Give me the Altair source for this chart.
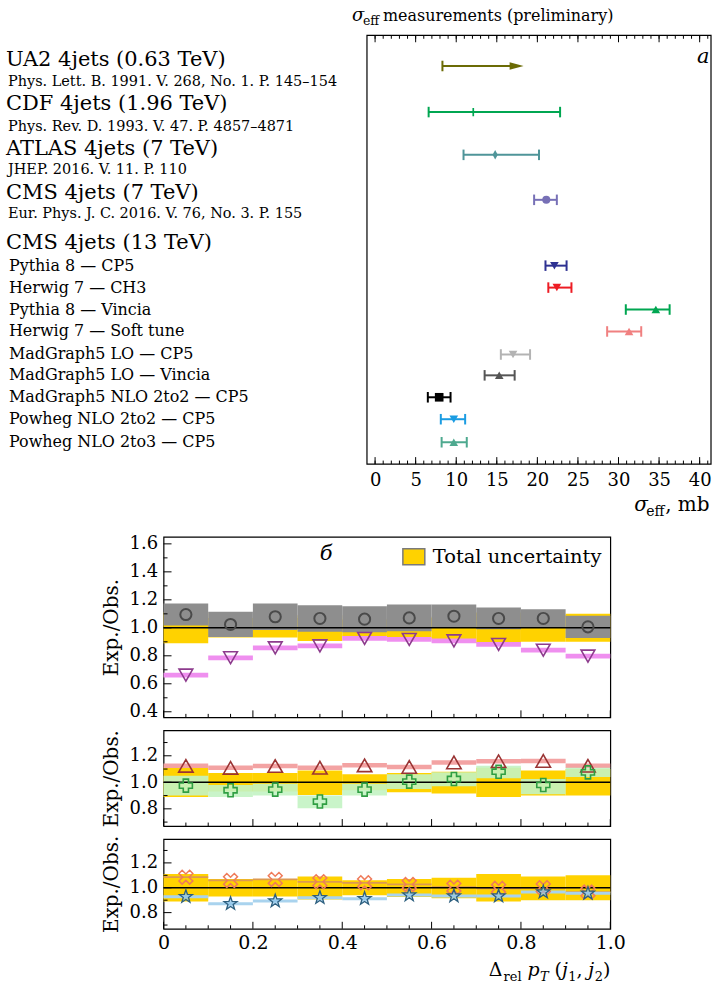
import altair as alt
import pandas as pd

FONT = "DejaVu Serif"

# ================= panel a : sigma_eff measurements =================
exp_names = ["UA2 4jets (0.63 TeV)", "CDF 4jets (1.96 TeV)",
             "ATLAS 4jets (7 TeV)", "CMS 4jets (7 TeV)"]
exp_refs = ["Phys. Lett. B. 1991. V. 268, No. 1. P. 145–154",
            "Phys. Rev. D. 1993. V. 47. P. 4857–4871",
            "JHEP. 2016. V. 11. P. 110",
            "Eur. Phys. J. C. 2016. V. 76, No. 3. P. 155"]
ua2_limit = 8.3          # lower limit
ua2_arrow_to = 18.3
meas_val = [12.1, 14.8, 21.1]     # CDF, ATLAS, CMS 7 TeV
meas_lo = [6.6, 10.9, 19.6]
meas_hi = [22.8, 20.2, 22.4]
cms13_title = "CMS 4jets (13 TeV)"
model_names = ["Pythia 8 — CP5", "Herwig 7 — CH3", "Pythia 8 — Vincia",
               "Herwig 7 — Soft tune", "MadGraph5 LO — CP5", "MadGraph5 LO — Vincia",
               "MadGraph5 NLO 2to2 — CP5", "Powheg NLO 2to2 — CP5", "Powheg NLO 2to3 — CP5"]
model_val = [22.1, 22.4, 34.6, 31.3, 17.0, 15.3, 7.9, 9.7, 9.7]
model_lo = [21.0, 21.35, 30.9, 28.6, 15.5, 13.5, 6.5, 8.1, 8.2]
model_hi = [23.6, 24.2, 36.3, 32.8, 19.1, 17.2, 9.3, 11.1, 11.3]
sigma_major = [0, 5, 10, 15, 20, 25, 30, 35, 40]
sigma_minor = [0, 1, 2, 3, 4, 5, 6, 7, 8, 9, 10, 11, 12, 13, 14, 15, 16, 17, 18, 19, 20,
               21, 22, 23, 24, 25, 26, 27, 28, 29, 30, 31, 32, 33, 34, 35, 36, 37, 38, 39, 40, 41]

# row layout (row units, top = 0)
exp_label_row = [1.15, 3.15, 5.2, 7.2]
exp_ref_row = [2.15, 4.2, 6.15, 8.15]
ua2_row = 1.4
meas_row = [3.5, 5.45, 7.5]
cms13_row = 9.45
model_row = [10.5, 11.5, 12.5, 13.5, 14.55, 15.5, 16.5, 17.5, 18.55]

# styles
PLUS = "M-0.2,-1H0.2V-0.2H1V0.2H0.2V1H-0.2V0.2H-1V-0.2H-0.2Z"
DIAM = "M0,-1L0.55,0L0,1L-0.55,0Z"
HEAD = "M-2,-0.55L0,0L-2,0.55Z"
STAR = ("M0,-1L0.235,-0.324L0.951,-0.309L0.380,0.124L0.588,0.809L0,0.4"
        "L-0.588,0.809L-0.380,0.124L-0.951,-0.309L-0.235,-0.324Z")
XMK = ("M0.495,-0.919L0.919,-0.495L0.424,0L0.919,0.495L0.495,0.919L0,0.424"
       "L-0.495,0.919L-0.919,0.495L-0.424,0L-0.919,-0.495L-0.495,-0.919L0,-0.424Z")
ua2_color = "#6b6b05"
meas_colors = ["#00a651", "#4f9599", "#7770b6"]
meas_shapes = [PLUS, DIAM, "circle"]
meas_sizes = [70, 90, 65]
model_colors = ["#2e3192", "#ed1c24", "#00a651", "#f08080", "#b3b3b3",
                "#555555", "#000000", "#1b9ce2", "#4ea98f"]
model_shapes = ["triangle-down", "triangle-down", "triangle-up", "triangle-up",
                "triangle-down", "triangle-up", "square", "triangle-down", "triangle-up"]
model_size = 75

W_A, H_A = 549, 430
xs_a = alt.Scale(domain=[-1, 41.4], range=[204, 549], nice=False, zero=False)
ys_a = alt.Scale(domain=[0, 19.545], reverse=True, nice=False, zero=False)
ax_a = alt.Axis(values=sigma_major, ticks=False, domain=False, grid=False,
                labelFont=FONT, labelFontSize=18, labelPadding=7, labelFlush=False,
                title=None)


def XA(f):
    return alt.X(f, type="quantitative", scale=xs_a, axis=ax_a)


def YA(f):
    return alt.Y(f, type="quantitative", scale=ys_a, axis=None)


def one():
    return alt.Data(values=[{"k": 0}])


def txt(s, x, y, size, italic=False, align="left", baseline="alphabetic"):
    return alt.Chart(alt.Data(values=[{"t": s}])).mark_text(
        font=FONT, fontSize=size, fontStyle="italic" if italic else "normal",
        align=align, baseline=baseline, color="black"
    ).encode(text="t:N", x=alt.value(x), y=alt.value(y))


pts_df = pd.DataFrame({
    "val": meas_val + model_val,
    "lo": meas_lo + model_lo,
    "hi": meas_hi + model_hi,
    "row": meas_row + model_row,
    "color": meas_colors + model_colors,
    "shape": meas_shapes + model_shapes,
    "size": meas_sizes + [model_size] * len(model_val),
})
exp_df = pd.DataFrame({"name": exp_names, "ref": exp_refs,
                       "lrow": exp_label_row, "rrow": exp_ref_row})
model_df = pd.DataFrame({"name": model_names, "row": model_row})
ua2_df = pd.DataFrame({"lim": [ua2_limit], "to": [ua2_arrow_to], "row": [ua2_row]})
maj_a = pd.DataFrame({"t": sigma_major})
min_a = pd.DataFrame({"t": sigma_minor})

frame_a = alt.Chart(one()).mark_rect(fillOpacity=0, stroke="black", strokeWidth=1.2).encode(
    x=alt.value(204), x2=alt.value(549), y=alt.value(0), y2=alt.value(H_A))
tick_layers_a = [
    alt.Chart(maj_a).mark_rule(color="black", strokeWidth=1).encode(x=XA("t"), y=alt.value(H_A), y2=alt.value(H_A - 7)),
    alt.Chart(min_a).mark_rule(color="black", strokeWidth=1).encode(x=XA("t"), y=alt.value(H_A), y2=alt.value(H_A - 3.5)),
    alt.Chart(maj_a).mark_rule(color="black", strokeWidth=1).encode(x=XA("t"), y=alt.value(0), y2=alt.value(7)),
    alt.Chart(min_a).mark_rule(color="black", strokeWidth=1).encode(x=XA("t"), y=alt.value(0), y2=alt.value(3.5)),
]
err_a = alt.Chart(pts_df).mark_rule(strokeWidth=2).encode(
    x=XA("lo"), x2=alt.X2("hi"), y=YA("row"), color=alt.Color("color:N", scale=None))
caps_a = alt.Chart(pts_df).transform_fold(["lo", "hi"], as_=["k", "e"]).transform_calculate(
    r1="datum.row - 0.24", r2="datum.row + 0.24").mark_rule(strokeWidth=2).encode(
    x=XA("e:Q"), y=YA("r1"), y2=alt.Y2("r2"), color=alt.Color("color:N", scale=None))
pts_a = alt.Chart(pts_df).mark_point(filled=True, opacity=1).encode(
    x=XA("val"), y=YA("row"), color=alt.Color("color:N", scale=None),
    shape=alt.Shape("shape:N", scale=None), size=alt.Size("size:Q", scale=None))
ua2_line = alt.Chart(ua2_df).transform_calculate(end="datum.to - 1.0").mark_rule(
    strokeWidth=2, color=ua2_color).encode(x=XA("lim"), x2=alt.X2("end"), y=YA("row"))
ua2_cap = alt.Chart(ua2_df).transform_calculate(r1="datum.row - 0.24", r2="datum.row + 0.24").mark_rule(
    strokeWidth=2, color=ua2_color).encode(x=XA("lim"), y=YA("r1"), y2=alt.Y2("r2"))
ua2_head = alt.Chart(ua2_df).mark_point(shape=HEAD, filled=True, size=196, opacity=1,
                                         color=ua2_color).encode(x=XA("to"), y=YA("row"))
name_txt = alt.Chart(exp_df).mark_text(align="left", baseline="middle", font=FONT, fontSize=21,
                                       color="black").encode(x=alt.value(-158), y=YA("lrow"), text="name:N")
ref_txt = alt.Chart(exp_df).mark_text(align="left", baseline="middle", font=FONT, fontSize=14.5,
                                      color="black").encode(x=alt.value(-156), y=YA("rrow"), text="ref:N")
cms13_txt = alt.Chart(pd.DataFrame({"name": [cms13_title], "row": [cms13_row]})).mark_text(
    align="left", baseline="middle", font=FONT, fontSize=21, color="black").encode(
    x=alt.value(-158), y=YA("row"), text="name:N")
model_txt = alt.Chart(model_df).mark_text(align="left", baseline="middle", font=FONT, fontSize=16,
                                          color="black").encode(x=alt.value(-155), y=YA("row"), text="name:N")

panel_a = alt.layer(
    frame_a, *tick_layers_a, err_a, caps_a, ua2_line, ua2_cap, ua2_head, pts_a,
    name_txt, ref_txt, cms13_txt, model_txt,
    txt("а", 535, 28, 21, italic=True),
    txt("σ", 189, -14, 18, italic=True),
    txt("eff", 200, -10, 12.5),
    txt("measurements (preliminary)", 220, -14, 16),
    txt("σ", 472, 477, 20, italic=True),
    txt("eff", 484, 482, 14),
    txt(", mb", 503, 477, 20),
).properties(width=W_A, height=H_A, view=alt.ViewBackground(stroke="transparent"))

# ================= panel b : Exp./Obs. ratios =================
bin_lo = [0.0, 0.1, 0.2, 0.3, 0.4, 0.5, 0.6, 0.7, 0.8, 0.9]
bin_hi = [0.1, 0.2, 0.3, 0.4, 0.5, 0.6, 0.7, 0.8, 0.9, 1.0]
bin_mid = [0.05, 0.15, 0.25, 0.35, 0.45, 0.55, 0.65, 0.75, 0.85, 0.95]
tot_lo = [0.89, 0.93, 0.93, 0.905, 0.94, 0.925, 0.915, 0.89, 0.90, 0.90]
tot_hi = [1.11, 1.07, 1.07, 1.09, 1.06, 1.07, 1.08, 1.11, 1.09, 1.10]
circ_val = [1.095, 1.024, 1.079, 1.067, 1.062, 1.071, 1.083, 1.067, 1.067, 1.007]
circ_lo = [1.016, 0.934, 0.984, 0.972, 0.969, 0.975, 0.999, 0.989, 1.001, 0.928]
circ_hi = [1.174, 1.114, 1.174, 1.162, 1.155, 1.167, 1.167, 1.145, 1.133, 1.086]
tdown_val = [0.662, 0.786, 0.857, 0.871, 0.924, 0.917, 0.907, 0.881, 0.840, 0.798]
tup_val = [1.124, 1.109, 1.123, 1.110, 1.128, 1.116, 1.150, 1.159, 1.161, 1.125]
plus_val = [0.975, 0.940, 0.945, 0.855, 0.945, 1.005, 1.025, 1.080, 0.980, 1.075]
plus_lo = [0.90, 0.89, 0.90, 0.805, 0.90, 0.95, 0.97, 1.03, 0.91, 1.04]
plus_hi = [1.05, 0.98, 0.99, 0.90, 0.99, 1.06, 1.075, 1.125, 1.025, 1.11]
xmk_val = [1.085, 1.059, 1.067, 1.048, 1.040, 1.027, 1.005, 0.995, 1.000, 0.965]
star_val = [0.928, 0.872, 0.893, 0.920, 0.912, 0.941, 0.933, 0.933, 0.965, 0.955]
x_major_b = [0.0, 0.2, 0.4, 0.6, 0.8, 1.0]
x_minor_b = [0.05, 0.1, 0.15, 0.25, 0.3, 0.35, 0.45, 0.5, 0.55, 0.65, 0.7, 0.75, 0.85, 0.9, 0.95]
y1_major = [0.4, 0.6, 0.8, 1.0, 1.2, 1.4, 1.6]
y1_minor = [0.5, 0.7, 0.9, 1.1, 1.3, 1.5]
y2_major = [0.8, 1.0, 1.2]
y2_minor = [0.7, 0.9, 1.1, 1.3]
ref_level = [1.0]

bdf = pd.DataFrame({"lo": bin_lo, "hi": bin_hi, "mid": bin_mid, "tlo": tot_lo, "thi": tot_hi,
                    "circ": circ_val, "clo": circ_lo, "chi": circ_hi, "tdn": tdown_val,
                    "tup": tup_val, "plus": plus_val, "plo": plus_lo, "phi": plus_hi,
                    "xmk": xmk_val, "star": star_val})

W_B = 448
xs_b = alt.Scale(domain=[0, 1], nice=False, zero=False)
YELLOW = "#ffd200"


def sub_panel(height, ydom, ymaj, ymin, body, marks, show_x=False, extra=()):
    ys = alt.Scale(domain=ydom, nice=False, zero=False)
    yax = alt.Axis(values=ymaj, format=".1f", ticks=False, domain=False, grid=False,
                   labelFont=FONT, labelFontSize=18, labelPadding=6,
                   title="Exp./Obs.", titleFont=FONT, titleFontSize=20,
                   titleFontWeight="normal", titlePadding=8)
    if show_x:
        xax = alt.Axis(values=x_major_b, ticks=False, domain=False, grid=False,
                       labelFont=FONT, labelFontSize=19, labelPadding=5, labelFlush=False,
                       labelExpr="datum.value == 0 ? '0' : format(datum.value, '.1f')",
                       title=None)
    else:
        xax = None

    def X(f):
        return alt.X(f, type="quantitative", scale=xs_b, axis=xax)

    def Y(f):
        return alt.Y(f, type="quantitative", scale=ys, axis=yax)

    base = alt.Chart(bdf)
    layers = [base.mark_rect(color=YELLOW).encode(x=X("lo"), x2=alt.X2("hi"), y=Y("tlo"), y2=alt.Y2("thi"))]
    layers += body(base, X, Y)
    layers.append(alt.Chart(pd.DataFrame({"v": ref_level})).mark_rule(color="black", strokeWidth=1.6)
                  .encode(y=Y("v")))
    layers += marks(base, X, Y)
    tick = dict(color="black", strokeWidth=1)
    layers += [
        alt.Chart(pd.DataFrame({"t": ymaj})).mark_rule(**tick).encode(y=Y("t"), x=alt.value(0), x2=alt.value(8)),
        alt.Chart(pd.DataFrame({"t": ymin})).mark_rule(**tick).encode(y=Y("t"), x=alt.value(0), x2=alt.value(4)),
        alt.Chart(pd.DataFrame({"t": x_major_b})).mark_rule(**tick).encode(x=X("t"), y=alt.value(height), y2=alt.value(height - 7)),
        alt.Chart(pd.DataFrame({"t": x_minor_b})).mark_rule(**tick).encode(x=X("t"), y=alt.value(height), y2=alt.value(height - 3.5)),
    ]
    layers += list(extra)
    return alt.layer(*layers).properties(width=W_B, height=height)


def body1(base, X, Y):
    return [
        base.mark_rect(color="#8e8e8e").encode(x=X("lo"), x2=alt.X2("hi"), y=Y("clo"), y2=alt.Y2("chi")),
        base.transform_calculate(a="datum.tdn - 0.017", b="datum.tdn + 0.017").mark_rect(color="#ef8fef")
            .encode(x=X("lo"), x2=alt.X2("hi"), y=Y("a"), y2=alt.Y2("b")),
    ]


def marks1(base, X, Y):
    return [
        base.mark_point(shape="circle", size=125, color="#4a4a4a", strokeWidth=2, filled=False, opacity=1)
            .encode(x=X("mid"), y=Y("circ")),
        base.mark_point(shape="triangle-down", size=190, color="#8d3b8d", strokeWidth=1.6, filled=False, opacity=1)
            .encode(x=X("mid"), y=Y("tdn")),
    ]


def body2(base, X, Y):
    return [
        base.transform_calculate(a="datum.tup - 0.017", b="datum.tup + 0.017").mark_rect(color="#f3a3a3")
            .encode(x=X("lo"), x2=alt.X2("hi"), y=Y("a"), y2=alt.Y2("b")),
        base.mark_rect(color="#c3f3c3", opacity=0.9).encode(x=X("lo"), x2=alt.X2("hi"), y=Y("plo"), y2=alt.Y2("phi")),
    ]


def marks2(base, X, Y):
    return [
        base.mark_point(shape="triangle-up", size=210, color="#9a3434", strokeWidth=1.6, filled=False, opacity=1)
            .encode(x=X("mid"), y=Y("tup")),
        base.mark_point(shape="cross", size=170, color="#2f9e42", strokeWidth=1.6, filled=False, opacity=1)
            .encode(x=X("mid"), y=Y("plus")),
    ]


def body3(base, X, Y):
    return [
        base.transform_calculate(a="datum.xmk - 0.007", b="datum.xmk + 0.007").mark_rect(color="#dd9a50")
            .encode(x=X("lo"), x2=alt.X2("hi"), y=Y("a"), y2=alt.Y2("b")),
        base.transform_calculate(a="datum.star - 0.012", b="datum.star + 0.012").mark_rect(color="#a9d3ee")
            .encode(x=X("lo"), x2=alt.X2("hi"), y=Y("a"), y2=alt.Y2("b")),
    ]


def marks3(base, X, Y):
    return [
        base.mark_point(shape=XMK, size=230, stroke="#ef7b5a", strokeWidth=1.5, filled=False, opacity=1)
            .encode(x=X("mid"), y=Y("xmk")),
        base.mark_point(shape=STAR, size=190, stroke="#2d5f7f", fill="#8ec5ea", fillOpacity=0.7,
                        strokeWidth=1.3, opacity=1)
            .encode(x=X("mid"), y=Y("star")),
    ]


legend1 = [
    alt.Chart(one()).mark_rect(fill=YELLOW, stroke="#7a7a7a", strokeWidth=1.5).encode(
        x=alt.value(240), x2=alt.value(262), y=alt.value(12), y2=alt.value(28)),
    txt("Total uncertainty", 270, 26, 19.5),
    txt("б", 163, 23, 21, italic=True, align="center"),
]
xtitle3 = [
    txt("Δ", 326, 137, 19),
    txt("rel", 341, 142, 13),
    txt("p", 365, 137, 19, italic=True),
    txt("T", 377.5, 142, 13, italic=True),
    txt("(", 392, 137, 19),
    txt("j", 399.5, 137, 19, italic=True),
    txt("1", 405.8, 142, 13),
    txt(",", 414, 137, 19),
    txt("j", 426, 137, 19, italic=True),
    txt("2", 432.3, 142, 13),
    txt(")", 440.6, 137, 19),
]

sub1 = sub_panel(181, [0.36, 1.65], y1_major, y1_minor, body1, marks1, extra=legend1)
sub2 = sub_panel(96, [0.67, 1.392], y2_major, y2_minor, body2, marks2)
sub3 = sub_panel(90, [0.67, 1.392], y2_major, y2_minor, body3, marks3, show_x=True, extra=xtitle3)

panel_b = alt.vconcat(sub1, sub2, sub3, spacing=13, bounds="flush")

chart = alt.vconcat(panel_a, panel_b, spacing=73, bounds="flush").properties(
    padding={"left": 5, "top": 5, "right": 0, "bottom": 0},
    background="white",
).configure_view(stroke="black", strokeWidth=1.2).configure_axis(
    labelColor="black", titleColor="black")

chart.save("out.html", embed_options={"renderer": "svg", "actions": False})
